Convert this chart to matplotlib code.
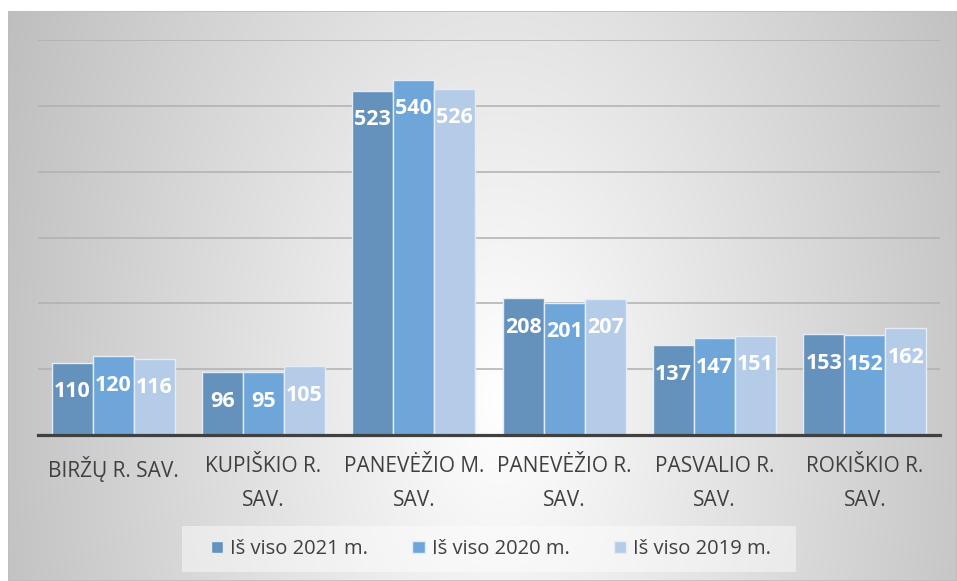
import numpy as np
import matplotlib
matplotlib.use("Agg")
import matplotlib.pyplot as plt
from matplotlib.patches import Rectangle

categories = ["BIRŽŲ R. SAV.", "KUPIŠKIO R.\nSAV.", "PANEVĖŽIO M.\nSAV.",
              "PANEVĖŽIO R.\nSAV.", "PASVALIO R.\nSAV.", "ROKIŠKIO R.\nSAV."]
series_names = ["Iš viso 2021 m.", "Iš viso 2020 m.", "Iš viso 2019 m."]
v2021 = [110, 96, 523, 208, 137, 153]
v2020 = [120, 95, 540, 201, 147, 152]
v2019 = [116, 105, 526, 207, 151, 162]
yticks = [100, 200, 300, 400, 500, 600]

COLORS = ["#6591bd", "#6fa6da", "#b4cce8"]
TEXT = "#404040"
FONT = "Open Sans"

plt.rcParams["font.family"] = [FONT, "DejaVu Sans"]

W, H = 957, 581
fig = plt.figure(figsize=(W / 100, H / 100), dpi=100)
fig.patch.set_facecolor("white")

# chart-area background: soft radial gradient, white near lower centre
bg = fig.add_axes([8 / W, 0, 1 - 8 / W, 1 - 11 / H], zorder=-5)
xs = np.linspace(8, W, 300)
ys = np.linspace(11, H, 200)
X, Y = np.meshgrid(xs, ys)
r = np.sqrt(((X - 500) / 470) ** 2 + 0.25 * ((Y - 400) / 400) ** 2)
shade = 1 - 0.22 * r
bg.imshow(np.dstack([shade] * 3).clip(0, 1), aspect="auto",
          extent=[0, 1, 0, 1], origin="upper", interpolation="bilinear")
bg.add_patch(Rectangle((0, 0), 1, 1, transform=bg.transAxes, fill=False,
                       edgecolor="#bdbdbd", linewidth=1.2))
# legend backdrop
bg.add_patch(Rectangle((182 / W, 9 / H), (796 - 182) / W, (572 - 526) / H,
                       transform=fig.transFigure, facecolor="white",
                       alpha=0.45, edgecolor="none", zorder=2))
bg.set_xlim(0, 1); bg.set_ylim(0, 1)
bg.axis("off")

ax = fig.add_axes([38 / W, 1 - 435 / H, (940 - 38) / W, (435 - 40) / H])
ax.set_facecolor("none")

x = np.arange(len(categories))
w = 0.273
for off, vals, col, name in zip([-w, 0, w], [v2021, v2020, v2019], COLORS, series_names):
    bars = ax.bar(x + off, vals, w, color=col, edgecolor="#e4ecf5",
                  linewidth=1, label=name, zorder=3)
    for b, v in zip(bars, vals):
        ax.annotate(str(v), (b.get_x() + b.get_width() / 2, v),
                    xytext=(0, -25), textcoords="offset points",
                    ha="center", va="baseline", color="white",
                    fontsize=15.5, fontweight="bold", zorder=4)

ax.set_xlim(-0.5, len(categories) - 0.5)
ax.set_ylim(0, 600)
ax.set_yticks(yticks)
ax.yaxis.grid(True, color="#b0b0b0", linewidth=1.1, zorder=0)
ax.tick_params(axis="y", left=False, labelleft=False)
ax.tick_params(axis="x", length=0, pad=15)
ax.set_xticks(x)
ax.set_xticklabels(categories, fontsize=15, color=TEXT, linespacing=1.85)
for s in ["top", "right", "left"]:
    ax.spines[s].set_visible(False)
ax.spines["bottom"].set_color("#404040")
ax.spines["bottom"].set_linewidth(2.3)
ax.spines["bottom"].set_zorder(5)

leg = fig.legend(loc="center", bbox_to_anchor=(491 / W, 1 - 549 / H), ncol=3,
                 frameon=False, fontsize=14.5, handlelength=0.6, handleheight=0.6,
                 handletextpad=0.35, columnspacing=2.2)
for t in leg.get_texts():
    t.set_color(TEXT)

fig.savefig("out.png", dpi=100)
